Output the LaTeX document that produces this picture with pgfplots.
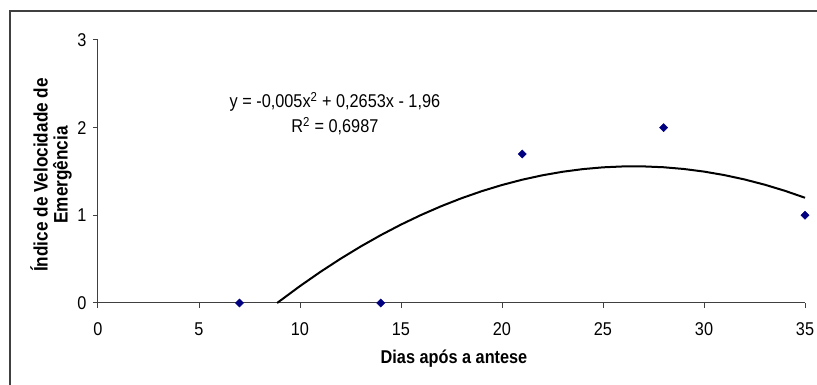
\documentclass[border=0pt]{standalone}
\usepackage{fontspec}
\setmainfont{Liberation Sans}[FakeStretch=0.88]
\usepackage{pgfplots}
\pgfplotsset{compat=1.18}
\definecolor{navymark}{RGB}{0,0,128}
\definecolor{axgray}{RGB}{64,64,64}
\begin{document}
\begin{tikzpicture}
\useasboundingbox (0pt,0pt) rectangle (817pt,385pt);
\draw[line width=1.8pt, axgray] (10pt,0pt) -- (10pt,374pt) -- (817pt,374pt);
\begin{axis}[
  at={(98pt,82pt)}, anchor=south west,
  scale only axis, width=707pt, height=263pt,
  xmin=0, xmax=35, ymin=0, ymax=3,
  axis x line=bottom, axis y line=left,
  axis line style={-, axgray, line width=1pt},
  xtick={0,5,10,15,20,25,30,35}, ytick={0,1,2,3},
  tick align=outside, major tick length=5pt,
  tick style={axgray, line width=1pt},
  tick label style={font=\fontsize{18.5}{21}\selectfont},
  xticklabel style={yshift=-11pt},
  yticklabel style={xshift=-3pt},
  /pgf/number format/assume math mode=true,
  clip=false,
]
\addplot[black, line width=2pt] coordinates {
 (8.87,0) (9,0.0227) (10,0.193) (11,0.3533) (12,0.5036) (13,0.6439)
 (14,0.7742) (15,0.8945) (16,1.0048) (17,1.1051) (18,1.1954) (19,1.2757)
 (20,1.346) (21,1.4063) (22,1.4566) (23,1.4969) (24,1.5272) (25,1.5475)
 (26,1.5578) (27,1.5581) (28,1.5484) (29,1.5287) (30,1.499) (31,1.4593)
 (32,1.4096) (33,1.3499) (34,1.2802) (35,1.2005)
};
\addplot[only marks, mark=square*, mark size=2.9pt, mark options={rotate=45, fill=navymark, draw=navymark}] coordinates {
 (7,0) (14,0) (21,1.7) (28,2) (35,1)
};
\node[align=center, font=\fontsize{18.5}{25}\selectfont] at (axis cs:11.73,2.16)
 {y = -0,005x\textsuperscript{2} + 0,2653x - 1,96\\R\textsuperscript{2} = 0,6987};
\end{axis}
\node[font=\fontsize{18.5}{21}\selectfont\bfseries] at (454pt,26pt) {Dias após a antese};
\node[rotate=90, align=center, font=\fontsize{19.5}{20}\selectfont\bfseries] at (51pt,210pt)
 {Índice de Velocidade de\\Emergência};
\end{tikzpicture}
\end{document}
